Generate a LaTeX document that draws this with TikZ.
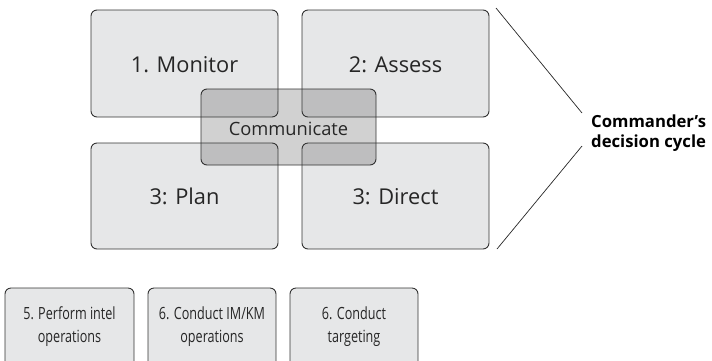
\documentclass[tikz,border=0pt]{standalone}
\usepackage{fontspec}
\setmainfont{Open Sans}
\newfontfamily\condfont[FakeStretch=0.75]{Open Sans}
\definecolor{boxfill}{RGB}{230,231,232}
\definecolor{edge}{RGB}{50,50,50}
\definecolor{commfill}{RGB}{63,63,63}
\tikzset{
  stagebox/.style={draw=edge, line width=0.9pt, fill=boxfill, rounded corners=6pt},
  commbox/.style={draw=edge, line width=0.9pt, fill=commfill, fill opacity=0.24, draw opacity=1, rounded corners=6pt},
  bigtxt/.style={font=\fontsize{21.8}{26}\selectfont, text=black!85, anchor=base, inner sep=0pt},
  midtxt/.style={font=\fontsize{18.3}{22}\selectfont, text=black!85, anchor=base, inner sep=0pt},
  smalltxt/.style={font=\condfont\fontsize{16.8}{23}\selectfont, text=black!85, align=center, inner sep=0pt},
  cyclelbl/.style={font=\bfseries\fontsize{16.7}{20}\selectfont, align=left, anchor=west, inner sep=0pt},
  brace/.style={draw=black!85, line width=0.7pt}
}
\begin{document}
\begin{tikzpicture}[x=1pt,y=-1pt]
\useasboundingbox (0,0) rectangle (712,360);
\clip (0,0) rectangle (712,360);
% four stage boxes
\draw[stagebox] (91,10) rectangle (278,117);
\draw[stagebox] (302,10) rectangle (489,117);
\draw[stagebox] (91,143) rectangle (278,249);
\draw[stagebox] (302,143) rectangle (489,249);
\node[bigtxt] (mon) at (184.5,72.3) {1. Monitor};
\node[bigtxt] (ass) at (395.5,72.3) {2: Assess};
\node[bigtxt] (pla) at (184.5,204.5) {3: Plan};
\node[bigtxt] (dir) at (395.5,204.5) {3: Direct};
% communicate
\draw[commbox] (201,89) rectangle (376,165);
\node[midtxt] (com) at (288.5,135.6) {Communicate};
% commander's decision cycle
\node[cyclelbl] (cyc) at (591,133) {Commander's\\decision cycle};
\coordinate (top) at (496,8);
\coordinate (bot) at (497,249);
\coordinate (tipA) at (582,113);
\coordinate (tipB) at (582,146);
\draw[brace] (top) -- (tipA);
\draw[brace] (tipB) -- (bot);
% bottom boxes
\draw[stagebox] (5,288) rectangle (134,380);
\draw[stagebox] (148,288) rectangle (276,380);
\draw[stagebox] (290,288) rectangle (418,380);
\node[smalltxt] (intel) at (69.5,327) {5. Perform intel\\operations};
\node[smalltxt] (imkm) at (212,327) {6. Conduct IM/KM\\operations};
\node[smalltxt] (targ) at (354,327) {6. Conduct\\targeting};
\end{tikzpicture}
\end{document}
